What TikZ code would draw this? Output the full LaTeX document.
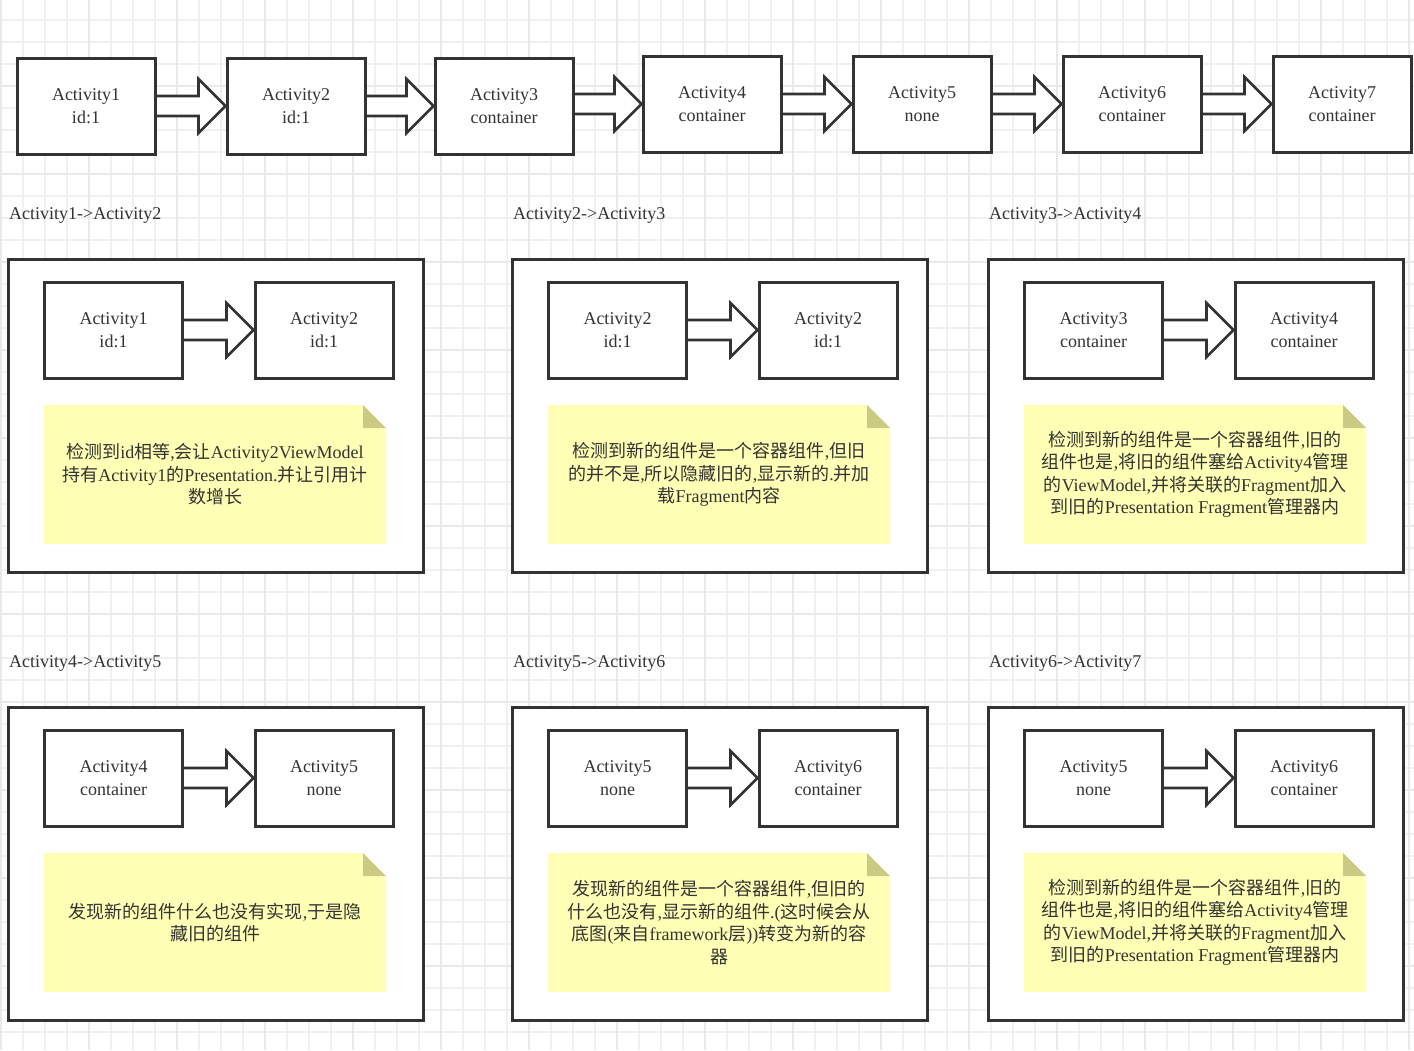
\documentclass[tikz,border=0pt]{standalone}
\usepackage{fontspec}
\setmainfont{Liberation Serif}
\newfontfamily\cjk{Noto Sans CJK SC}
\usetikzlibrary{calc}
\definecolor{ink}{HTML}{333333}
\definecolor{notefill}{HTML}{FFFFB5}
\definecolor{notefold}{HTML}{CACA84}
\definecolor{gminor}{HTML}{F0F0F0}
\definecolor{gmajor}{HTML}{E9E9E9}
\pgfdeclarelayer{gridlayer}
\pgfdeclarelayer{panellayer}
\pgfdeclarelayer{arrowlayer}
\pgfsetlayers{gridlayer,panellayer,arrowlayer,main}
\tikzset{
  actbox/.style={draw=ink, line width=3pt, fill=white, minimum width=138pt, minimum height=96pt,
    inner sep=0pt, align=center, text=ink, font=\fontsize{18}{23}\selectfont},
  panelbox/.style={draw=ink, line width=2.6pt, fill=white, minimum width=415pt, minimum height=313pt, inner sep=0pt},
  barrow/.style={draw=ink, line width=2.6pt, fill=white, line join=miter},
  steplabel/.style={anchor=west, inner sep=0pt, text=ink, font=\fontsize{18}{22}\selectfont},
  notetext/.style={align=center, inner sep=0pt, text=ink, font=\fontsize{18}{22.5}\selectfont},
  gridminor/.style={draw=gminor, line width=1.4pt},
  gridmajor/.style={draw=gmajor, line width=1.6pt}
}
\newcommand\blockarrow[2]{%
  \begin{pgfonlayer}{arrowlayer}
  \draw[barrow] ($(#1.east|-#2.west)+(0,10)$) -- ($(#2.west)+(-27,10)$) -- ($(#2.west)+(-27,27)$)
     -- (#2.west) -- ($(#2.west)+(-27,-27)$) -- ($(#2.west)+(-27,-10)$) -- ($(#1.east|-#2.west)+(0,-10)$);
  \end{pgfonlayer}}
\newcommand\notebox[4]{%
  \fill[notefill] (#2,#3) -- ++(319,0) -- ++(23,23) -- ++(0,116) -- ++(-342,0) -- cycle;
  \fill[notefold] ({#2+319},#3) -- ++(0,23) -- ++(23,0) -- cycle;
  \node[notetext] (#1) at ({#2+171},{#3+69.5}) {#4};}
\begin{document}
\begin{tikzpicture}[x=1pt,y=-1pt]
\useasboundingbox (0,0) rectangle (1414,1050);
\begin{pgfonlayer}{gridlayer}
  \fill[white] (0,0) rectangle (1414,1050);
  \foreach \i in {0,...,64} \draw[gridminor] ({1+22*\i},0) -- ({1+22*\i},1050);
  \foreach \j in {0,...,47} \draw[gridminor] (0,{20+22*\j}) -- (1414,{20+22*\j});
  \foreach \i in {0,...,16} \draw[gridmajor] ({1+88*\i},0) -- ({1+88*\i},1050);
  \foreach \j in {0,...,12} \draw[gridmajor] (0,{-2+88*\j}) -- (1414,{-2+88*\j});
\end{pgfonlayer}

% top row
\node[actbox] (t1) at (86,106) {Activity1\\id:1};
\node[actbox] (t2) at (296,106) {Activity2\\id:1};
\node[actbox] (t3) at (504,106) {Activity3\\container};
\node[actbox] (t4) at (712,104) {Activity4\\container};
\node[actbox] (t5) at (922,104) {Activity5\\none};
\node[actbox] (t6) at (1132,104) {Activity6\\container};
\node[actbox] (t7) at (1342,104) {Activity7\\container};
\blockarrow{t1}{t2}
\blockarrow{t2}{t3}
\blockarrow{t3}{t4}
\blockarrow{t4}{t5}
\blockarrow{t5}{t6}
\blockarrow{t6}{t7}

% labels
\node[steplabel] (l1) at (9,215) {Activity1->Activity2};
\node[steplabel] (l2) at (513,215) {Activity2->Activity3};
\node[steplabel] (l3) at (989,215) {Activity3->Activity4};
\node[steplabel] (l4) at (9,663) {Activity4->Activity5};
\node[steplabel] (l5) at (513,663) {Activity5->Activity6};
\node[steplabel] (l6) at (989,663) {Activity6->Activity7};

% panels
\begin{pgfonlayer}{panellayer}
\node[panelbox] (p1) at (216,416) {};
\node[panelbox] (p2) at (720,416) {};
\node[panelbox] (p3) at (1196,416) {};
\node[panelbox] (p4) at (216,864) {};
\node[panelbox] (p5) at (720,864) {};
\node[panelbox] (p6) at (1196,864) {};
\end{pgfonlayer}

% panel 1
\node[actbox] (a1) at (113.5,330) {Activity1\\id:1};
\node[actbox] (b1) at (324,330) {Activity2\\id:1};
\blockarrow{a1}{b1}
\notebox{n1}{44}{405}{{\cjk 检测到}id{\cjk 相等},{\cjk 会让}Activity2ViewModel\\
{\cjk 持有}Activity1{\cjk 的}Presentation.{\cjk 并让引用计}\\
{\cjk 数增长}}

% panel 2
\node[actbox] (a2) at (617.5,330) {Activity2\\id:1};
\node[actbox] (b2) at (828,330) {Activity2\\id:1};
\blockarrow{a2}{b2}
\notebox{n2}{548}{405}{{\cjk 检测到新的组件是一个容器组件},{\cjk 但旧}\\
{\cjk 的并不是},{\cjk 所以隐藏旧的},{\cjk 显示新的}.{\cjk 并加}\\
{\cjk 载}Fragment{\cjk 内容}}

% panel 3
\node[actbox] (a3) at (1093.5,330) {Activity3\\container};
\node[actbox] (b3) at (1304,330) {Activity4\\container};
\blockarrow{a3}{b3}
\notebox{n3}{1024}{405}{{\cjk 检测到新的组件是一个容器组件},{\cjk 旧的}\\
{\cjk 组件也是},{\cjk 将旧的组件塞给}Activity4{\cjk 管理}\\
{\cjk 的}ViewModel,{\cjk 并将关联的}Fragment{\cjk 加入}\\
{\cjk 到旧的}Presentation Fragment{\cjk 管理器内}}

% panel 4
\node[actbox] (a4) at (113.5,778) {Activity4\\container};
\node[actbox] (b4) at (324,778) {Activity5\\none};
\blockarrow{a4}{b4}
\notebox{n4}{44}{853}{{\cjk 发现新的组件什么也没有实现},{\cjk 于是隐}\\
{\cjk 藏旧的组件}}

% panel 5
\node[actbox] (a5) at (617.5,778) {Activity5\\none};
\node[actbox] (b5) at (828,778) {Activity6\\container};
\blockarrow{a5}{b5}
\notebox{n5}{548}{853}{{\cjk 发现新的组件是一个容器组件},{\cjk 但旧的}\\
{\cjk 什么也没有},{\cjk 显示新的组件}.({\cjk 这时候会从}\\
{\cjk 底图}({\cjk 来自}framework{\cjk 层})){\cjk 转变为新的容}\\
{\cjk 器}}

% panel 6
\node[actbox] (a6) at (1093.5,778) {Activity5\\none};
\node[actbox] (b6) at (1304,778) {Activity6\\container};
\blockarrow{a6}{b6}
\notebox{n6}{1024}{853}{{\cjk 检测到新的组件是一个容器组件},{\cjk 旧的}\\
{\cjk 组件也是},{\cjk 将旧的组件塞给}Activity4{\cjk 管理}\\
{\cjk 的}ViewModel,{\cjk 并将关联的}Fragment{\cjk 加入}\\
{\cjk 到旧的}Presentation Fragment{\cjk 管理器内}}
\end{tikzpicture}
\end{document}
